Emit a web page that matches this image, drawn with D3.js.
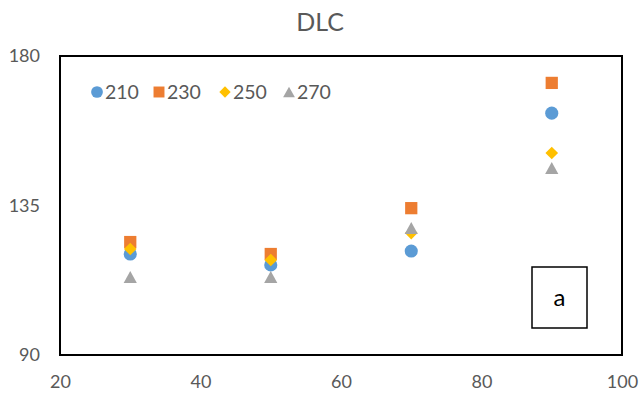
<!DOCTYPE html>
<meta charset="utf-8">
<style>
    body { margin: 0; background: #fff; }
    text { font-family: Lato, "Open Sans", sans-serif; }
</style>
<div class="chart"></div>
<script src="https://cdn.jsdelivr.net/npm/d3@7"></script>
<script>
    // data
    var xValues = [30, 50, 70, 90];
    var seriesNames = ["210", "230", "250", "270"];
    var s210 = [120.4, 117.1, 121.3, 162.8];
    var s230 = [124.0, 120.4, 134.2, 171.9];
    var s250 = [121.9, 118.6, 126.7, 150.8];
    var s270 = [113.5, 113.5, 128.2, 146.3];
    var xTicks = [20, 40, 60, 80, 100];
    var yTicks = [90, 135, 180];

    var W = 640, H = 398;
    var margin = {top: 56, right: 18, bottom: 43, left: 60};

    var colors = ["#5B9BD5", "#ED7D31", "#FFC000", "#A5A5A5"];

    // excel-like diamond: a square turned 45 degrees
    var excelDiamond = {
        draw: function (context, size) {
            var r = Math.sqrt(size / 2);
            context.moveTo(0, -r);
            context.lineTo(r, 0);
            context.lineTo(0, r);
            context.lineTo(-r, 0);
            context.closePath();
        }
    };
    // excel-like triangle, centred on its box
    var excelTriangle = {
        draw: function (context, size) {
            var h = Math.sqrt(size * 1.6);
            var w = h * 1.1;
            context.moveTo(0, -h / 2);
            context.lineTo(w / 2, h / 2);
            context.lineTo(-w / 2, h / 2);
            context.closePath();
        }
    };
    var shapes = [d3.symbolCircle, d3.symbolSquare, excelDiamond, excelTriangle];
    var sizes = [135, 150, 80, 90];

    var svg = d3.select(".chart").append("svg")
        .attr("width", W).attr("height", H);

    var x = d3.scaleLinear().domain([20, 100]).range([margin.left, W - margin.right]);
    var y = d3.scaleLinear().domain([90, 180]).range([H - margin.bottom, margin.top]);

    // title
    svg.append("text")
        .attr("x", W / 2).attr("y", 22)
        .attr("dy", "0.35em")
        .attr("text-anchor", "middle")
        .attr("fill", "#595959")
        .style("font-size", "25px")
        .text("DLC");

    // axes (labels only)
    var xAxis = d3.axisBottom(x).tickValues(xTicks).tickSize(0).tickPadding(20);
    var yAxis = d3.axisLeft(y).tickValues(yTicks).tickSize(0).tickPadding(20);

    svg.append("g")
        .attr("transform", "translate(0," + (H - margin.bottom) + ")")
        .call(xAxis)
        .call(function (g) { g.select(".domain").remove(); })
        .selectAll("text")
        .attr("fill", "#595959")
        .style("font-size", "18px");

    svg.append("g")
        .attr("transform", "translate(" + margin.left + ",0)")
        .call(yAxis)
        .call(function (g) { g.select(".domain").remove(); })
        .selectAll("text")
        .attr("fill", "#595959")
        .style("font-size", "18px");

    // plot frame
    svg.append("rect")
        .attr("x", x(20)).attr("y", y(180))
        .attr("width", x(100) - x(20)).attr("height", y(90) - y(180))
        .attr("fill", "none")
        .attr("stroke", "#000")
        .attr("stroke-width", 2);

    // points, series in order
    var allSeries = [s210, s230, s250, s270];
    allSeries.forEach(function (vals, i) {
        svg.append("g").selectAll("path")
            .data(vals)
            .enter().append("path")
            .attr("d", d3.symbol().type(shapes[i]).size(sizes[i]))
            .attr("transform", function (d, j) { return "translate(" + x(xValues[j]) + "," + y(d) + ")"; })
            .attr("fill", colors[i]);
    });

    // legend
    var legendX = [97, 159, 225, 289];
    var legend = svg.append("g");
    seriesNames.forEach(function (name, i) {
        legend.append("path")
            .attr("d", d3.symbol().type(shapes[i]).size(sizes[i] * 0.8))
            .attr("transform", "translate(" + legendX[i] + ",92)")
            .attr("fill", colors[i]);
        legend.append("text")
            .attr("x", legendX[i] + 8).attr("y", 92)
            .attr("dy", "0.36em")
            .attr("fill", "#595959")
            .style("font-size", "19.5px")
            .text(name);
    });

    // annotation box
    svg.append("rect")
        .attr("x", 532).attr("y", 267)
        .attr("width", 55).attr("height", 61)
        .attr("fill", "#fff")
        .attr("stroke", "#000")
        .attr("stroke-width", 1.5);
    svg.append("text")
        .attr("x", 559.5).attr("y", 298)
        .attr("dy", "0.35em")
        .attr("text-anchor", "middle")
        .attr("fill", "#000")
        .style("font-size", "24px")
        .text("a");
</script>
